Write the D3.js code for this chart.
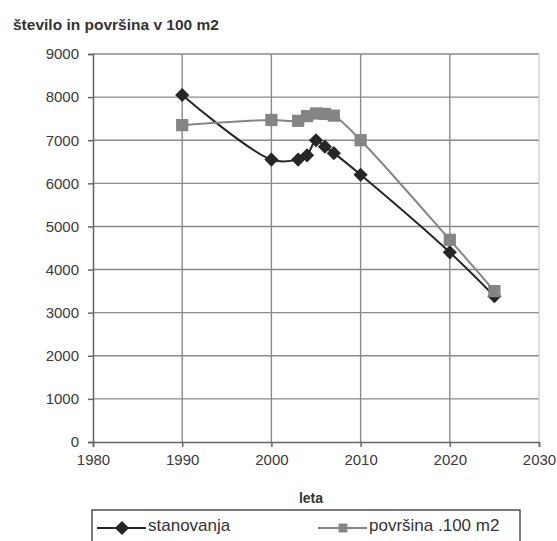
<!DOCTYPE html>
<html>
<head>
<meta charset="utf-8">
<script src="https://cdn.jsdelivr.net/npm/d3@7"></script>
<style>
  body { margin: 0; background: #fff; }
  svg { font-family: "Liberation Sans", Arial, sans-serif; }
  .axis text { font-size: 15px; fill: #3a3a3a; }
  .grid line { stroke: #8a8a8a; stroke-width: 1.4; }
</style>
</head>
<body>
<svg id="chart" width="557" height="541"></svg>
<script>
var years = [1990, 2000, 2003, 2004, 2005, 2006, 2007, 2010, 2020, 2025];
var stanovanja = [8050, 6550, 6550, 6650, 7000, 6850, 6700, 6200, 4400, 3380];
var povrsina = [7350, 7470, 7450, 7560, 7620, 7610, 7570, 7000, 4690, 3500];
var xTicks = [1980, 1990, 2000, 2010, 2020, 2030];
var yTicks = [0, 1000, 2000, 3000, 4000, 5000, 6000, 7000, 8000, 9000];

var margin = { top: 54, right: 18, bottom: 99, left: 93 };
var width = 557 - margin.left - margin.right;
var height = 541 - margin.top - margin.bottom;

var svg = d3.select("#chart");

var x = d3.scaleLinear().domain([1980, 2030]).range([0, width]);
var y = d3.scaleLinear().domain([0, 9000]).range([height, 0]);

var chart = svg.append("g")
    .attr("transform", "translate(" + margin.left + "," + margin.top + ")");

// gridlines
chart.append("g").attr("class", "grid")
    .selectAll("line.h").data(yTicks.slice(1)).enter().append("line")
    .attr("x1", 0).attr("x2", width)
    .attr("y1", function(d) { return y(d); })
    .attr("y2", function(d) { return y(d); });

chart.append("g").attr("class", "grid")
    .selectAll("line.v").data(xTicks.slice(1, -1)).enter().append("line")
    .attr("y1", 0).attr("y2", height)
    .attr("x1", function(d) { return x(d); })
    .attr("x2", function(d) { return x(d); });

// right border
chart.append("line")
    .attr("x1", width).attr("x2", width)
    .attr("y1", 0).attr("y2", height)
    .attr("stroke", "#c8c8c8").attr("stroke-width", 1.2);

var xAxis = d3.axisBottom(x).tickValues(xTicks).tickFormat(d3.format("d")).tickSize(5).tickPadding(7);
var yAxis = d3.axisLeft(y).tickValues(yTicks).tickFormat(d3.format("d")).tickSize(5).tickPadding(9);

var gx = chart.append("g").attr("class", "x axis")
    .attr("transform", "translate(0," + height + ")")
    .call(xAxis);
var gy = chart.append("g").attr("class", "y axis")
    .call(yAxis);

[gx, gy].forEach(function(g) {
    g.select(".domain").attr("stroke", "#666").attr("stroke-width", 1.5);
    g.selectAll(".tick line").attr("stroke", "#666").attr("stroke-width", 1.5);
});

var line = d3.line()
    .x(function(d) { return x(d[0]); })
    .y(function(d) { return y(d[1]); })
    .curve(d3.curveCatmullRom.alpha(0.5));

var series = [
    { name: "stanovanja", values: stanovanja, color: "#262626" },
    { name: "površina .100 m2", values: povrsina, color: "#858585" }
];

var diamond = d3.symbol().type(d3.symbolSquare).size(100);
var square = d3.symbol().type(d3.symbolSquare).size(150);

series.forEach(function(s) {
    var pts = years.map(function(yr, j) { return [yr, s.values[j]]; });
    chart.append("path")
        .datum(pts)
        .attr("fill", "none")
        .attr("stroke", s.color)
        .attr("stroke-width", 2)
        .attr("d", line);
});

var pts0 = years.map(function(yr, j) { return [yr, stanovanja[j]]; });
var pts1 = years.map(function(yr, j) { return [yr, povrsina[j]]; });

chart.selectAll(".m0").data(pts0).enter().append("path")
    .attr("class", "m0")
    .attr("d", diamond)
    .attr("fill", "#262626")
    .attr("transform", function(d) { return "translate(" + x(d[0]) + "," + y(d[1]) + ") rotate(45)"; });

chart.selectAll(".m1").data(pts1).enter().append("path")
    .attr("class", "m1")
    .attr("d", square)
    .attr("fill", "#858585")
    .attr("transform", function(d) { return "translate(" + x(d[0]) + "," + y(d[1]) + ")"; });

// title
svg.append("text")
    .attr("x", 13).attr("y", 30)
    .attr("font-size", 15.5).attr("font-weight", "bold").attr("fill", "#333")
    .text("število in površina v 100 m2");

// x axis title
svg.append("text")
    .attr("x", 311).attr("y", 503)
    .attr("text-anchor", "middle")
    .attr("font-size", 14).attr("font-weight", "bold").attr("fill", "#333")
    .text("leta");

// legend
var legend = svg.append("g");
legend.append("rect")
    .attr("x", 92).attr("y", 510).attr("width", 428).attr("height", 40)
    .attr("fill", "#fff").attr("stroke", "#333").attr("stroke-width", 1.3);

var legendItems = [
    { x: 97, label: series[0].name, color: series[0].color, mark: diamond, rot: 45 },
    { x: 318, label: series[1].name, color: series[1].color, mark: d3.symbol().type(d3.symbolSquare).size(80), rot: 0 }
];
legendItems.forEach(function(it) {
    legend.append("line")
        .attr("x1", it.x).attr("x2", it.x + 49)
        .attr("y1", 528).attr("y2", 528)
        .attr("stroke", it.color).attr("stroke-width", 2);
    legend.append("path")
        .attr("d", it.mark)
        .attr("fill", it.color)
        .attr("transform", "translate(" + (it.x + 25) + ",528) rotate(" + it.rot + ")");
    legend.append("text")
        .attr("x", it.x + 51).attr("y", 531)
        .attr("font-size", 17).attr("fill", "#333")
        .text(it.label);
});
</script>
</body>
</html>
